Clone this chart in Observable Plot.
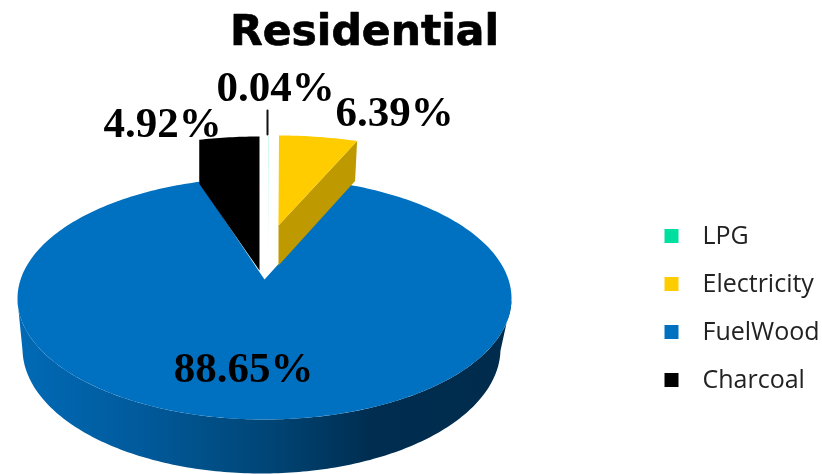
<!DOCTYPE html>
<html>
<head>
<meta charset="utf-8">
<script src="https://cdn.jsdelivr.net/npm/d3@7"></script>
<script src="https://cdn.jsdelivr.net/npm/@observablehq/plot@0.6"></script>
<style>html,body{margin:0;padding:0;background:#fff}svg{display:block;filter:blur(0.5px)}</style>
</head>
<body>
<script>
const categories = ["LPG", "Electricity", "FuelWood", "Charcoal"];
const shares = [0.04, 6.39, 88.65, 4.92];
const labels = ["0.04%", "6.39%", "88.65%", "4.92%"];
const colors = ["#00dfa0", "#ffcc00", "#0070c0", "#000000"];
const sideColors = ["#00dfa0", "#bf9900", null, "#000000"];
const labelX = [275, 394, 243, 162];
const labelY = [101, 126, 382, 137];

// Each slice sits on its own ellipse: the small ones are pulled out and drawn further back.
const slices = [
  {cx: 267.8, cy: 226, rx: 227, ry: 90, apexY: 226, depth: 31, skew: 0},
  {cx: 278, cy: 225, rx: 227, ry: 90, apexY: 225, depth: 40, skew: -2},
  {cx: 264, cy: 298, rx: 247, ry: 121, apexY: 279, depth: 0, skew: 0},
  {cx: 259, cy: 226, rx: 227, ry: 90, apexY: 226, depth: 44, skew: 0}
];
const rad = Math.PI / 180;
const warp = (deg) => (deg - 4 * Math.sin(2 * deg * rad)) * rad; // pie perspective
const cumulative = d3.cumsum(shares);
const ranges = shares.map((s, i) => [(cumulative[i] - s) * 3.6, cumulative[i] * 3.6]);

function arc(s, from, to) {
  const n = Math.max(2, Math.ceil(Math.abs(to - from)));
  return d3.range(n + 1).map((k) => {
    const t = warp(from + (to - from) * k / n);
    return {x: s.cx + s.rx * Math.sin(t), y: s.cy - s.ry * Math.cos(t)};
  });
}
function topFace(i) {
  const s = slices[i];
  return [{x: s.cx, y: s.apexY}, ...arc(s, ...ranges[i])];
}
function sideFace(i, angle) {
  const s = slices[i];
  const rim = arc(s, angle, angle)[0];
  return [
    {x: s.cx, y: s.apexY}, rim,
    {x: rim.x + s.skew, y: rim.y + s.depth}, {x: s.cx, y: s.apexY + s.depth}
  ];
}
// A slice whose top and side share one colour is drawn as a single outline.
function solidFace(i) {
  const s = slices[i];
  const rim = arc(s, ...ranges[i]);
  return [{x: rim[0].x, y: rim[0].y + s.depth}, ...rim, {x: s.cx, y: s.apexY + s.depth}];
}
// Wall of the big slice: front half of the top ellipse, back along the base ellipse.
const base = {cx: 261, cy: 348, rx: 239, ry: 125};
function frontWall() {
  const top = d3.range(91, 270).map((d) => {
    const t = d * rad;
    return {x: 264 + 247 * Math.sin(t), y: 298 - 121 * Math.cos(t)};
  });
  const bottom = d3.range(269, 90, -1).map((d) => {
    const t = d * rad;
    return {x: base.cx + base.rx * Math.sin(t), y: base.cy - base.ry * Math.cos(t)};
  });
  return [...top, ...bottom];
}
const wallGradient = () => {
  const ns = "http://www.w3.org/2000/svg";
  const defs = document.createElementNS(ns, "defs");
  const g = document.createElementNS(ns, "linearGradient");
  g.setAttribute("id", "wall");
  [[0, "#016ab6"], [0.25, "#015a9b"], [0.5, "#004677"], [0.72, "#002d50"], [1, "#002b4c"]].forEach(([o, c]) => {
    const st = document.createElementNS(ns, "stop");
    st.setAttribute("offset", o);
    st.setAttribute("stop-color", c);
    g.appendChild(st);
  });
  defs.appendChild(g);
  return defs;
};
const face = (pts, fill, extra = {}) => Plot.line(pts, {x: "x", y: "y", fill, curve: "linear-closed", ...extra});

const legendRows = categories.map((name, i) => ({name, color: colors[i], y: 235.5 + 48 * i}));
const labelRows = labels.map((text, i) => ({text, x: labelX[i], y: labelY[i]}));
const titleRows = [{text: "Residential", x: 364, y: 47}];

const chart = Plot.plot({
  width: 822,
  height: 474,
  margin: 0,
  style: {background: "#fff"},
  x: {domain: [0, 822], range: [0, 822], axis: null},
  y: {domain: [0, 474], range: [0, 474], axis: null},
  marks: [
    wallGradient,
    face(frontWall(), "url(#wall)"),
    face(topFace(2), colors[2]),
    face(sideFace(1, ranges[1][1]), sideColors[1]),
    face(topFace(1), colors[1]),
    face(solidFace(3), colors[3]),
    face(solidFace(0), colors[0], {fillOpacity: 0.4}),
    Plot.line([{x: 267, y: 110}, {x: 267, y: 134}], {x: "x", y: "y", stroke: "#111", strokeWidth: 2}),
    Plot.text(labelRows, {x: "x", y: "y", text: "text", fontFamily: "Liberation Serif", fontWeight: "bold", fontSize: 43, fill: "#000", textAnchor: "middle", lineAnchor: "bottom", dy: -1}),
    Plot.text(titleRows, {x: "x", y: "y", text: "text", fontFamily: "DejaVu Sans", fontWeight: "bold", fontSize: 42.5, fill: "#000", stroke: "#000", strokeWidth: 0.7, textAnchor: "middle", lineAnchor: "bottom", dy: -3}),
    Plot.dot(legendRows, {x: 671, y: "y", symbol: "square", r: 7.9, fill: "color", stroke: null}),
    Plot.text(legendRows, {x: 702, y: "y", text: "name", fontFamily: "Open Sans", fontSize: 25, fill: "#222", textAnchor: "start"})
  ]
});
document.body.appendChild(chart);
</script>
</body>
</html>
